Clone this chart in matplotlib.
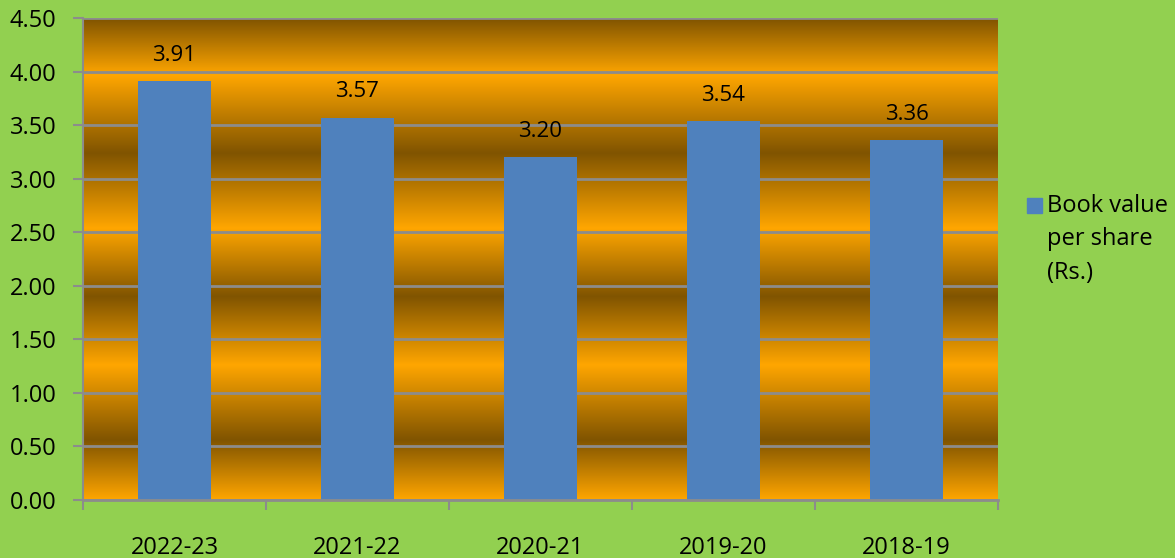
import numpy as np
import matplotlib
matplotlib.use("Agg")
import matplotlib.pyplot as plt

categories = ["2022-23", "2021-22", "2020-21", "2019-20", "2018-19"]
values = [3.91, 3.57, 3.20, 3.54, 3.36]
value_labels = ["3.91", "3.57", "3.20", "3.54", "3.36"]
series_name = "Book value\nper share\n(Rs.)"
y_ticks = [0.0, 0.5, 1.0, 1.5, 2.0, 2.5, 3.0, 3.5, 4.0, 4.5]

plt.rcParams['font.family'] = ['Open Sans', 'DejaVu Sans']
FS = 17

GREEN = "#92D050"
BAR = "#4F81BD"
BRIGHT = np.array([255, 166, 0]) / 255
DARK = np.array([128, 84, 0]) / 255
GRID = "#8C8C8C"

fig = plt.figure(figsize=(11.75, 5.58), dpi=100, facecolor=GREEN)
ax = fig.add_axes([83/1175, 58/558, 915/1175, 482/558])
ax.set_facecolor(GREEN)

ymax = 4.5
ax.set_xlim(-0.5, len(categories) - 0.5)
ax.set_ylim(0, ymax)

# background gradient (styling stops in data units)
stops = [(0.0, BRIGHT), (0.56, DARK), (1.26, BRIGHT), (1.90, DARK),
         (2.54, BRIGHT), (3.24, DARK), (3.97, BRIGHT), (4.5, DARK)]
ys = np.linspace(0, ymax, 600)
sv = [s[0] for s in stops]
img = np.zeros((len(ys), 1, 3))
for c in range(3):
    img[:, 0, c] = np.interp(ys, sv, [s[1][c] for s in stops])
ax.imshow(img, extent=[-0.5, len(categories) - 0.5, 0, ymax], origin="lower",
          aspect="auto", zorder=0, interpolation="bilinear")

# gridlines
for t in y_ticks:
    ax.axhline(t, color=GRID, lw=2, zorder=1)

x = np.arange(len(categories))
ax.bar(x, values, width=0.4, color=BAR, zorder=2)
for xi, v, lab in zip(x, values, value_labels):
    ax.annotate(lab, (xi, v), xytext=(0, 11), textcoords="offset points",
                ha="center", va="bottom", fontsize=FS - 1, color="black")

for s in ["top", "right"]:
    ax.spines[s].set_visible(False)
ax.spines["left"].set_color(GRID)
ax.spines["left"].set_linewidth(1.5)
ax.spines["bottom"].set_color(GRID)
ax.spines["bottom"].set_linewidth(2)
ax.spines["left"].set_zorder(3)
ax.spines["bottom"].set_zorder(3)

ax.set_yticks(y_ticks)
ax.set_yticklabels([f"{t:.2f}" for t in y_ticks], fontsize=FS)
ax.tick_params(axis="y", length=7, width=1.5, color=GRID, pad=12)

ax.set_xticks(np.arange(len(categories) + 1) - 0.5)
ax.set_xticklabels([])
ax.tick_params(axis="x", which="major", length=7, width=1.5, color=GRID)
ax.set_xticks(x, minor=True)
ax.set_xticklabels(categories, minor=True, fontsize=FS)
ax.tick_params(axis="x", which="minor", length=0, pad=26)

# legend
fig.patches.append(plt.Rectangle((1027/1175, 1 - 213/558), 15/1175, 15/558,
                                 transform=fig.transFigure, color=BAR))
fig.text(1047/1175, 1 - 194/558, series_name, ha="left", va="top",
         fontsize=FS, linespacing=1.52)

fig.savefig("out.png", dpi=100, facecolor=GREEN)
